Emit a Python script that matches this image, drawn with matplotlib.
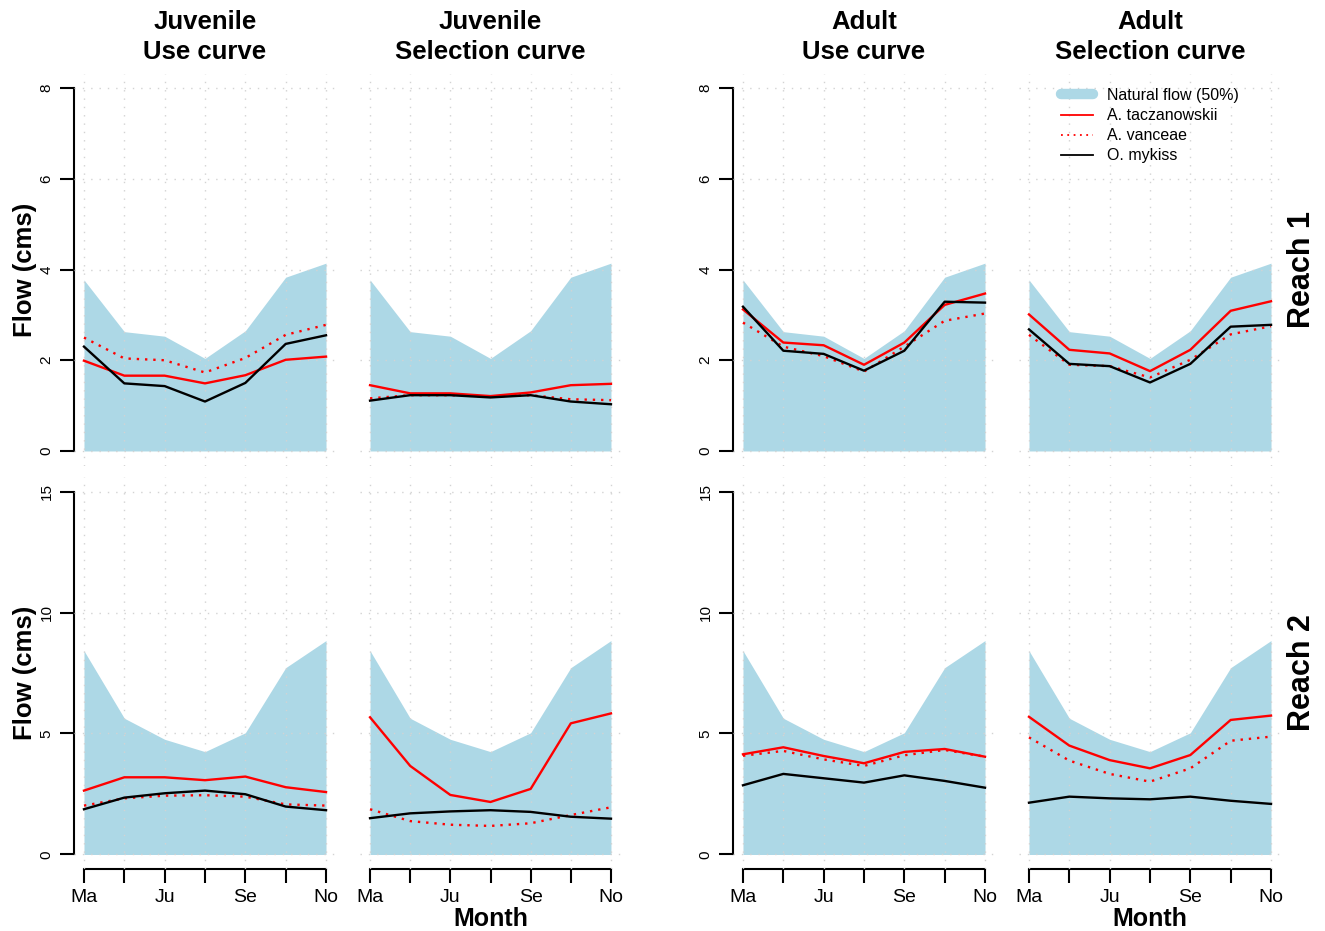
import matplotlib
matplotlib.use("Agg")
import matplotlib.pyplot as plt
from matplotlib.lines import Line2D
import numpy as np

plt.rcParams['font.family'] = ['Liberation Sans', 'DejaVu Sans']

# ---- data ----
months = np.arange(7)                       # May .. Nov
month_labels = ["Ma", "", "Ju", "", "Se", "", "No"]

natural_r1 = [3.77, 2.63, 2.53, 2.04, 2.65, 3.83, 4.14]
natural_r2 = [8.42, 5.63, 4.76, 4.25, 5.03, 7.72, 8.84]

# Reach 1
juv_use_r1_tacz = [1.99, 1.66, 1.66, 1.49, 1.67, 2.01, 2.08]
juv_use_r1_vanc = [2.50, 2.04, 2.00, 1.73, 2.05, 2.56, 2.78]
juv_use_r1_myk = [2.30, 1.49, 1.43, 1.09, 1.50, 2.36, 2.55]

juv_sel_r1_tacz = [1.45, 1.27, 1.27, 1.21, 1.29, 1.45, 1.48]
juv_sel_r1_vanc = [1.16, 1.23, 1.23, 1.20, 1.23, 1.14, 1.12]
juv_sel_r1_myk = [1.11, 1.23, 1.23, 1.18, 1.23, 1.09, 1.03]

ad_use_r1_tacz = [3.12, 2.39, 2.33, 1.90, 2.39, 3.22, 3.47]
ad_use_r1_vanc = [2.83, 2.30, 2.09, 1.75, 2.30, 2.87, 3.03]
ad_use_r1_myk = [3.18, 2.21, 2.14, 1.77, 2.21, 3.29, 3.27]

ad_sel_r1_tacz = [3.01, 2.23, 2.15, 1.76, 2.23, 3.09, 3.30]
ad_sel_r1_vanc = [2.56, 1.90, 1.87, 1.62, 2.01, 2.57, 2.75]
ad_sel_r1_myk = [2.68, 1.92, 1.87, 1.51, 1.92, 2.74, 2.78]

# Reach 2
juv_use_r2_tacz = [2.64, 3.19, 3.19, 3.07, 3.22, 2.78, 2.58]
juv_use_r2_vanc = [2.02, 2.32, 2.43, 2.45, 2.39, 2.07, 2.02]
juv_use_r2_myk = [1.87, 2.35, 2.53, 2.64, 2.49, 1.98, 1.83]

juv_sel_r2_tacz = [5.67, 3.66, 2.46, 2.17, 2.71, 5.42, 5.83]
juv_sel_r2_vanc = [1.87, 1.38, 1.23, 1.18, 1.29, 1.63, 1.95]
juv_sel_r2_myk = [1.50, 1.70, 1.78, 1.83, 1.76, 1.56, 1.48]

ad_use_r2_tacz = [4.14, 4.43, 4.07, 3.77, 4.24, 4.36, 4.04]
ad_use_r2_vanc = [4.08, 4.28, 3.93, 3.66, 4.10, 4.32, 4.04]
ad_use_r2_myk = [2.86, 3.33, 3.15, 2.97, 3.27, 3.04, 2.76]

ad_sel_r2_tacz = [5.69, 4.50, 3.90, 3.56, 4.11, 5.56, 5.74]
ad_sel_r2_vanc = [4.84, 3.88, 3.33, 3.01, 3.56, 4.70, 4.87]
ad_sel_r2_myk = [2.14, 2.39, 2.32, 2.28, 2.39, 2.22, 2.09]

col_titles = ["Juvenile\nUse curve", "Juvenile\nSelection curve",
              "Adult\nUse curve", "Adult\nSelection curve"]
row_labels = ["Reach 1", "Reach 2"]
row_ticks = [[0, 2, 4, 6, 8], [0, 5, 10, 15]]
naturals = [natural_r1, natural_r2]
curves = [
    [(juv_use_r1_tacz, juv_use_r1_vanc, juv_use_r1_myk),
     (juv_sel_r1_tacz, juv_sel_r1_vanc, juv_sel_r1_myk),
     (ad_use_r1_tacz, ad_use_r1_vanc, ad_use_r1_myk),
     (ad_sel_r1_tacz, ad_sel_r1_vanc, ad_sel_r1_myk)],
    [(juv_use_r2_tacz, juv_use_r2_vanc, juv_use_r2_myk),
     (juv_sel_r2_tacz, juv_sel_r2_vanc, juv_sel_r2_myk),
     (ad_use_r2_tacz, ad_use_r2_vanc, ad_use_r2_myk),
     (ad_sel_r2_tacz, ad_sel_r2_vanc, ad_sel_r2_myk)],
]

# ---- layout in pixels ----
W, H = 1325, 931
cols_px = [(74.3, 335.7), (360.4, 620.6), (733.3, 994.7), (1019.3, 1280.7)]
rows_px = [(73.5, 465.5), (477, 869)]

BLUE = "#ADD8E6"
DOT = (0, (1, 2.5))


def rect(x0, x1, y0, y1):
    return [x0 / W, 1 - y1 / H, (x1 - x0) / W, (y1 - y0) / H]


fig = plt.figure(figsize=(W / 100, H / 100), dpi=100)

for r, (y0, y1) in enumerate(rows_px):
    ticks = row_ticks[r]
    pad = 0.04 * (ticks[-1] - ticks[0])
    for c, (x0, x1) in enumerate(cols_px):
        ax = fig.add_axes(rect(x0, x1, y0, y1))
        tacz, vanc, myk = curves[r][c]
        ax.fill_between(months, 0, naturals[r], color=BLUE, lw=0, zorder=1)
        ax.plot(months, tacz, color="red", lw=1.7, zorder=3)
        ax.plot(months, vanc, color="red", lw=1.7, ls=DOT, zorder=3)
        ax.plot(months, myk, color="black", lw=1.7, zorder=3)

        ax.set_xlim(-0.24, 6.24)
        ax.set_ylim(ticks[0] - pad, ticks[-1] + pad)
        ax.set_xticks(months)
        ax.set_yticks(ticks)
        ax.grid(True, color="#D3D3D3", lw=1.0, ls=(0, (1, 5)))
        ax.set_axisbelow(False)
        for s in ax.spines.values():
            s.set_visible(False)

        ax.tick_params(direction="out", length=10, width=1.5, color="black")
        if c in (0, 2):
            ax.spines["left"].set_visible(True)
            ax.spines["left"].set_linewidth(1.5)
            ax.spines["left"].set_bounds(ticks[0], ticks[-1])
            ax.tick_params(axis="y", labelsize=11, pad=5)
            for lab in ax.get_yticklabels():
                lab.set_rotation(90)
                lab.set_va("center")
        else:
            ax.tick_params(axis="y", length=0, labelleft=False)

        if r == 1:
            ax.spines["bottom"].set_visible(True)
            ax.spines["bottom"].set_linewidth(1.5)
            ax.spines["bottom"].set_bounds(0, 6)
            ax.set_xticklabels(month_labels)
            ax.tick_params(axis="x", labelsize=14, pad=4.5)
        else:
            ax.tick_params(axis="x", length=0, labelbottom=False)

        if r == 0:
            fig.text((x0 + x1) / 2 / W, 1 - 37 / H, col_titles[c],
                     fontsize=18.5, fontweight="bold", linespacing=1.28,
                     ha="center", va="center")

        if r == 0 and c == 3:
            handles = [
                Line2D([], [], color=BLUE, lw=7.5, solid_capstyle="round"),
                Line2D([], [], color="red", lw=1.3),
                Line2D([], [], color="red", lw=1.3, ls=DOT),
                Line2D([], [], color="black", lw=1.3),
            ]
            labels = ["Natural flow (50%)", "A. taczanowskii",
                      "A. vanceae", "O. mykiss"]
            fig.legend(handles, labels, loc="upper left",
                       bbox_to_anchor=(1061 / W, 1 - 88 / H),
                       frameon=False, fontsize=11.5, handlelength=2.0,
                       handletextpad=0.9, labelspacing=0.32,
                       borderpad=0, borderaxespad=0)

    yc = (y0 + y1) / 2
    fig.text(25 / W, 1 - yc / H, "Flow (cms)", rotation=90, fontsize=18.5,
             fontweight="bold", ha="center", va="center")
    fig.text(1302 / W, 1 - yc / H, row_labels[r], rotation=90, fontsize=22,
             fontweight="bold", ha="center", va="center")

for c in (1, 3):
    x0, x1 = cols_px[c]
    fig.text((x0 + x1) / 2 / W, 1 - 919 / H, "Month", fontsize=18,
             fontweight="bold", ha="center", va="center")

fig.savefig("out.png", dpi=100)
